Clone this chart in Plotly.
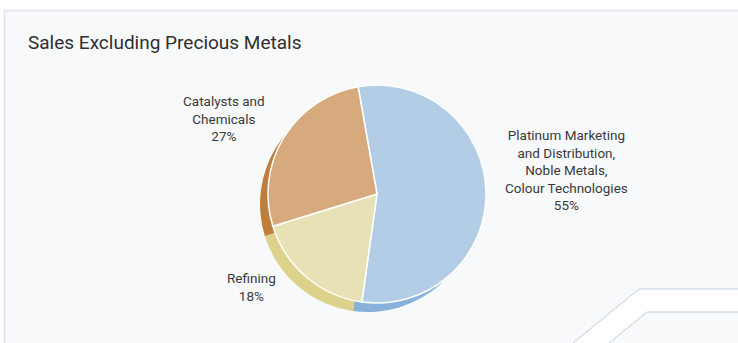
import plotly.graph_objects as go

W, H = 738, 343

labels = ["Platinum Marketing<br>and Distribution,<br>Noble Metals,<br>Colour Technologies",
          "Refining",
          "Catalysts and<br>Chemicals"]
values = [55, 18, 27]
colors = ["#b3cde6", "#e8e1b5", "#d6aa7c"]
shadow_colors = ["#88b2da", "#dcd28c", "#bf7f3c"]
title_text = "Sales Excluding Precious Metals"


def dom(cx, cy, r):
    return dict(x=[(cx - r) / W, (cx + r) / W],
                y=[1 - (cy + r) / H, 1 - (cy - r) / H])


ROT = -10
fig = go.Figure()
fig.add_trace(go.Pie(values=values, labels=labels, sort=False, direction="clockwise",
                     rotation=ROT, domain=dom(368, 204, 108), textinfo="none",
                     marker=dict(colors=shadow_colors, line=dict(width=0)),
                     hoverinfo="skip", showlegend=False))
fig.add_trace(go.Pie(values=values, labels=labels, sort=False, direction="clockwise",
                     rotation=ROT, domain=dom(377, 194, 109), textinfo="none",
                     marker=dict(colors=colors, line=dict(color="white", width=1.5)),
                     showlegend=False))

shapes = [
    dict(type="rect", xref="paper", yref="paper", x0=4 / W, x1=1, y0=0, y1=1 - 10 / H,
         fillcolor="#f7f9fb", line=dict(width=0), layer="below"),
    dict(type="line", xref="paper", yref="paper", x0=4.5 / W, x1=1, y0=1 - 10.5 / H, y1=1 - 10.5 / H,
         line=dict(color="#dde4ef", width=1.5), layer="below"),
    dict(type="line", xref="paper", yref="paper", x0=4.5 / W, x1=4.5 / W, y0=0, y1=1 - 10.5 / H,
         line=dict(color="#dde4ef", width=1.5), layer="below"),
]


def P(x, y):
    return f"{x / W},{1 - y / H}"


shapes.append(dict(type="path", xref="paper", yref="paper",
                   path=f"M{P(573, 343)} L{P(639, 289)} L{P(738, 289)} L{P(738, 312)} L{P(647, 312)} L{P(609, 343)} Z",
                   fillcolor="white", line=dict(width=0), layer="below"))
shapes.append(dict(type="path", xref="paper", yref="paper",
                   path=f"M{P(573, 343)} L{P(639, 289)} L{P(738, 289)}",
                   line=dict(color="#c3cde0", width=1), layer="below"))
shapes.append(dict(type="path", xref="paper", yref="paper",
                   path=f"M{P(609, 343)} L{P(647, 312)} L{P(738, 312)}",
                   line=dict(color="#c3cde0", width=1), layer="below"))

label_pos = [(566, 170), (251, 287), (224, 118)]
annotations = []
for lab, v, (x, y) in zip(labels, values, label_pos):
    annotations.append(dict(text=f"{lab}<br>{v}%", xref="paper", yref="paper",
                            x=x / W, y=1 - y / H, xanchor="center", yanchor="middle",
                            showarrow=False, align="center",
                            font=dict(family="Roboto", size=13.5, color="#3a3a3a")))
annotations.append(dict(text=title_text, xref="paper", yref="paper",
                        x=26 / W, y=1 - 42 / H, xanchor="left", yanchor="middle",
                        showarrow=False, font=dict(family="Roboto", size=19, color="#2f2f2f")))

fig.update_layout(width=W, height=H, margin=dict(l=0, r=0, t=0, b=0),
                  paper_bgcolor="white", plot_bgcolor="white",
                  shapes=shapes, annotations=annotations, showlegend=False)

fig.write_html("out.html")
